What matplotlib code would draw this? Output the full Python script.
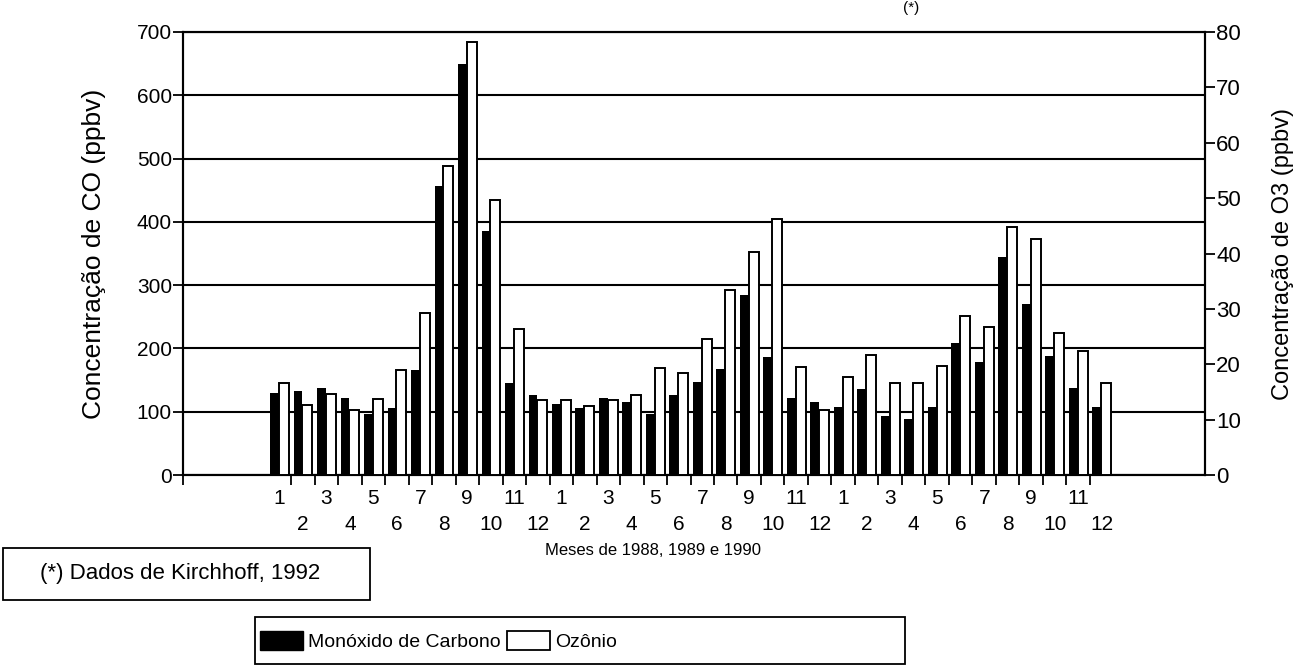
import numpy as np
import matplotlib
matplotlib.use("Agg")
import matplotlib.pyplot as plt
from matplotlib.patches import Rectangle, Patch

plt.rcParams['font.family'] = ['Liberation Sans', 'DejaVu Sans']

# monthly means (1988, 1989, 1990)
co_1988 = [129, 133, 137, 122, 96, 106, 166, 456, 650, 386, 146, 127]
co_1989 = [112, 106, 122, 116, 97, 127, 147, 167, 285, 186, 122, 116]
co_1990 = [107, 136, 94, 88, 108, 208, 178, 345, 270, 188, 138, 108]

o3_1988 = [16.7, 12.6, 14.6, 11.7, 13.8, 18.9, 29.3, 55.8, 78.2, 49.6, 26.4, 13.5]
o3_1989 = [13.5, 12.4, 13.6, 14.5, 19.4, 18.5, 24.5, 33.4, 40.3, 46.3, 19.5, 11.7]
o3_1990 = [17.7, 21.7, 16.6, 16.6, 19.7, 28.8, 26.8, 44.8, 42.7, 25.7, 22.4, 16.7]

months = [1, 2, 3, 4, 5, 6, 7, 8, 9, 10, 11, 12]
co_ticks = [0, 100, 200, 300, 400, 500, 600, 700]
o3_ticks = [0, 10, 20, 30, 40, 50, 60, 70, 80]


def month_labels(n_years):
    labels = []
    for y in range(n_years):
        for m in months:
            # odd months on first row, even months on the second one
            if m % 2 == 1:
                labels.append(str(m))
            else:
                labels.append("\n" + str(m))
    return labels


def main():
    co = co_1988 + co_1989 + co_1990
    o3 = o3_1988 + o3_1989 + o3_1990
    x = np.arange(len(co))

    fig = plt.figure(figsize=(12.97, 6.68), dpi=100)
    ax = fig.add_axes([0.1411, 0.2889, 0.7880, 0.6632])
    ax2 = ax.twinx()

    ax.bar(x - 0.21, co, width=0.37, color="black", zorder=3)
    ax2.bar(x + 0.19, o3, width=0.42, facecolor="white", edgecolor="black",
            linewidth=1.4, zorder=3)

    ax.set_xlim(-4.1, 39.4)
    ax.set_ylim(0, 700)
    ax2.set_ylim(0, 80)

    ax.set_yticks(co_ticks)
    ax2.set_yticks(o3_ticks)
    ax.set_axisbelow(True)
    ax.yaxis.grid(True, color="black", linewidth=1.5)

    ax.set_xticks(x)
    ax.set_xticklabels(month_labels(3), fontsize=15, linespacing=1.5)
    ax.tick_params(axis="x", which="major", length=0, pad=10)
    ax.set_xticks(list(np.arange(0.5, 35, 1.0)) + [-4.1], minor=True)
    ax.tick_params(axis="x", which="minor", length=7, width=1.3, direction="out")

    ax.tick_params(axis="y", length=7, width=1.3, pad=1, labelsize=15)
    ax2.tick_params(axis="y", length=7, width=1.3, pad=1, labelsize=16)

    for a in (ax, ax2):
        for s in a.spines.values():
            s.set_linewidth(1.5)
            s.set_color("black")

    ax.set_ylabel("Concentração de CO (ppbv)", fontsize=19, labelpad=22)
    ax2.set_ylabel("Concentração de O3 (ppbv)", fontsize=17, labelpad=22)

    fig.text(545 / 1297, 0.176, "Meses de 1988, 1989 e 1990", fontsize=12,
             ha="left", va="center")

    # title marker, mostly cut off in the scan
    fig.text(903 / 1297, 0.998, "(*)", fontsize=11, ha="left", va="top")

    # source box
    fig.patches.append(Rectangle((3 / 1297, 1 - 600 / 668), 367 / 1297, 52 / 668,
                                 transform=fig.transFigure, fill=False,
                                 edgecolor="black", linewidth=1.3))
    fig.text(40 / 1297, 1 - 574 / 668, "(*) Dados de Kirchhoff, 1992",
             fontsize=16, ha="left", va="center")

    # legend box
    fig.patches.append(Rectangle((255 / 1297, 1 - 664 / 668), 650 / 1297, 47 / 668,
                                 transform=fig.transFigure, fill=False,
                                 edgecolor="black", linewidth=1.3))
    handles = [Patch(facecolor="black", edgecolor="black"),
               Patch(facecolor="white", edgecolor="black", linewidth=1.3)]
    fig.legend(handles, ["Monóxido de Carbono", "Ozônio"], loc="center left",
               bbox_to_anchor=(252 / 1297, 1 - 641 / 668), ncol=2, frameon=False,
               fontsize=14, handlelength=2.2, handleheight=1.1,
               handletextpad=0.3, columnspacing=0.3, borderaxespad=0)

    fig.savefig("out.png", dpi=100)


if __name__ == "__main__":
    main()
